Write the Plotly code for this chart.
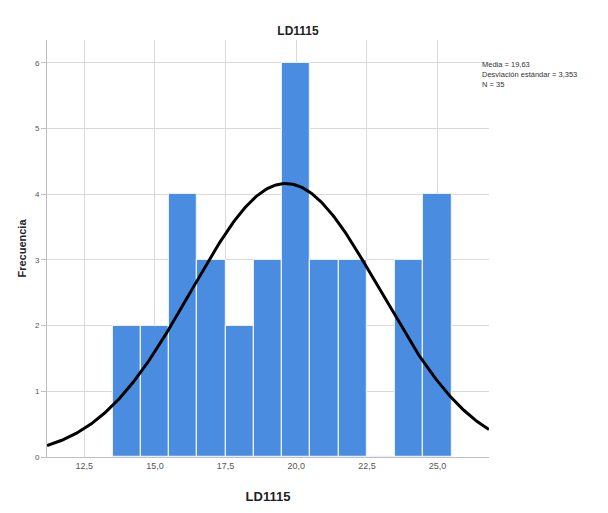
import numpy as np
import plotly.graph_objects as go

# Data: bin centers (LD1115 values) and frequencies
values = [14, 15, 16, 17, 18, 19, 20, 21, 22, 23, 24, 25]
counts = [2, 2, 4, 3, 2, 3, 6, 3, 3, 0, 3, 4]
x_ticks = [12.5, 15.0, 17.5, 20.0, 22.5, 25.0]
y_ticks = [0, 1, 2, 3, 4, 5, 6]

raw = np.repeat(values, counts)
n = len(raw)
mean = raw.mean()
sd = raw.std(ddof=1)

xr = [11.18, 26.82]
xc = np.linspace(xr[0], xr[1], 300)
yc = n * 1.0 * np.exp(-0.5 * ((xc - mean) / sd) ** 2) / (sd * np.sqrt(2 * np.pi))

fig = go.Figure()
fig.add_trace(go.Bar(x=values, y=counts, width=1.0,
                     marker=dict(color="#4a8de0", line=dict(color="#e8f0fb", width=1.2)),
                     showlegend=False))
fig.add_trace(go.Scatter(x=xc, y=yc, mode="lines",
                         line=dict(color="black", width=3), showlegend=False))

fig.update_layout(
    width=608, height=513,
    margin=dict(l=47, r=119, t=40, b=56),
    paper_bgcolor="white", plot_bgcolor="white",
    separators=",.",
    bargap=0,
    font=dict(family="Liberation Sans, Arial, sans-serif", color="#333333"),
    title=dict(text="<b>LD1115</b>", x=298/608, xanchor="center", y=1-31/513, yanchor="middle",
               font=dict(size=12, color="#222222")),
    xaxis=dict(range=xr, tickvals=x_ticks, tickformat=".1f",
               showgrid=True, gridcolor="#d9d9d9", gridwidth=1,
               showline=True, linecolor="#bfbfbf", linewidth=1,
               ticks="", tickfont=dict(size=9, color="#555555"),
               title=dict(text="<b>LD1115</b>", font=dict(size=13, color="#222222"), standoff=22),
               zeroline=False, fixedrange=True),
    yaxis=dict(range=[0, 6.35], tickvals=y_ticks,
               showgrid=True, gridcolor="#d9d9d9", gridwidth=1,
               showline=True, linecolor="#bfbfbf", linewidth=1,
               ticks="outside", ticklen=5, tickcolor="#bfbfbf",
               tickfont=dict(size=8, color="#555555"),
               title=dict(text="<b>Frecuencia</b>", font=dict(size=11, color="#222222"), standoff=6),
               zeroline=False, fixedrange=True),
)

stats_text = ("Media = " + f"{mean:.2f}".replace(".", ",") +
              "<br>Desviación estándar = " + f"{sd:.3f}".replace(".", ",") +
              "<br>N = " + str(n))
fig.add_annotation(text=stats_text, xref="paper", yref="paper",
                   x=1.0, y=1 - (58 - 40) / (513 - 96), xanchor="left", yanchor="top",
                   xshift=-9, align="left", showarrow=False,
                   font=dict(size=7.5, color="#333333"))

fig.write_html("out.html")
